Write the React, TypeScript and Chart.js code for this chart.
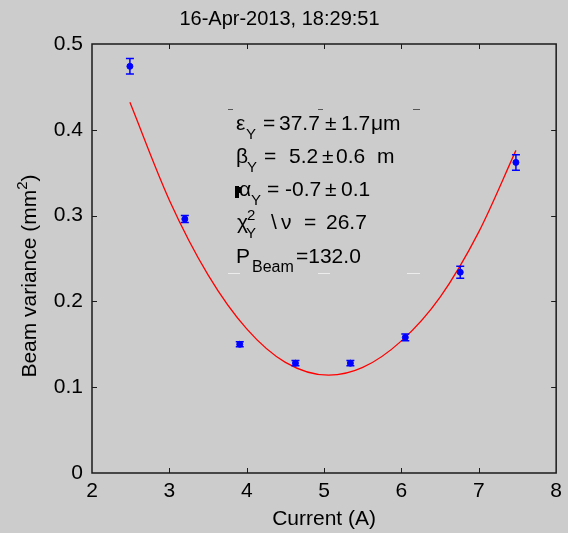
import React, { useEffect, useRef } from 'react';
import { Chart, registerables } from 'chart.js';

Chart.register(...registerables);

const chartTitle = '16-Apr-2013, 18:29:51';
const xAxisTitle = 'Current (A)';
const yAxisTitleMain = 'Beam variance (mm';
const yAxisTitleSup = '2';
const yAxisTitleEnd = ')';

const currents = [2.49, 3.2, 3.91, 4.63, 5.34, 6.05, 6.76, 7.48];
const variances = [0.474, 0.296, 0.15, 0.128, 0.128, 0.158, 0.234, 0.362];
const variancesErr = [0.009, 0.004, 0.003, 0.003, 0.003, 0.004, 0.007, 0.009];

const fitCurrents = [2.49, 3.0, 3.5, 4.0, 4.5, 5.06, 5.5, 6.0, 6.5, 7.0, 7.48];
const fitVariances = [0.432, 0.318, 0.231, 0.168, 0.129, 0.114, 0.123, 0.154, 0.205, 0.281, 0.376];

const xTicks = [2, 3, 4, 5, 6, 7, 8];
const yTicks = [0, 0.1, 0.2, 0.3, 0.4, 0.5];

const FONT = '"Liberation Sans", Arial, Helvetica, sans-serif';

// annotation text segments: [text, x, baseline offset, size]
type Seg = [string, number, number, number];
const annotationLines: { y: number; segs: Seg[] }[] = [
  { y: 130, segs: [['ε', 236, 0, 21], ['Y', 246, 9, 15], ['=', 263, 0, 21], ['37.7', 279, 0, 21], ['±', 325, 0, 21], ['1.7', 341, 0, 21], ['μm', 371, 0, 21]] },
  { y: 163, segs: [['β', 236, 0, 21], ['Y', 247, 9, 15], ['=', 264, 0, 21], ['5.2', 289, 0, 21], ['±', 322, 0, 21], ['0.6', 336, 0, 21], ['m', 377, 0, 21]] },
  { y: 196, segs: [['α', 239, 0, 21], ['Y', 251, 9, 15], ['=', 267, 0, 21], ['-0.7', 285, 0, 21], ['±', 325, 0, 21], ['0.1', 341, 0, 21]] },
  { y: 229, segs: [['χ', 237, 0, 21], ['2', 247, -9, 15], ['Y', 246, 9, 15], ['\\', 271, 0, 21], ['ν', 281, 0, 21], ['=', 304, 0, 21], ['26.7', 326, 0, 21]] },
  { y: 263, segs: [['P', 236, 0, 21], ['Beam', 252, 9, 16], ['=132.0', 296, 0, 21]] },
];

const errorBarPlugin = {
  id: 'errorBars',
  afterDatasetsDraw(chart: any) {
    const { ctx, scales } = chart;
    ctx.save();
    ctx.strokeStyle = '#0000ff';
    ctx.lineWidth = 1.5;
    currents.forEach((c, i) => {
      const px = scales.x.getPixelForValue(c);
      const top = scales.y.getPixelForValue(variances[i] + variancesErr[i]);
      const bot = scales.y.getPixelForValue(variances[i] - variancesErr[i]);
      ctx.beginPath();
      ctx.moveTo(px, top);
      ctx.lineTo(px, bot);
      ctx.moveTo(px - 4, top);
      ctx.lineTo(px + 4, top);
      ctx.moveTo(px - 4, bot);
      ctx.lineTo(px + 4, bot);
      ctx.stroke();
    });
    ctx.restore();
  },
};

const axesPlugin = {
  id: 'matlabAxes',
  afterDraw(chart: any) {
    const { ctx, chartArea: a, scales } = chart;
    ctx.save();
    ctx.strokeStyle = '#1a1a1a';
    ctx.lineWidth = 1.5;
    ctx.strokeRect(a.left, a.top, a.right - a.left, a.bottom - a.top);
    ctx.lineWidth = 1;
    ctx.beginPath();
    xTicks.slice(1, -1).forEach((v) => {
      const px = Math.round(scales.x.getPixelForValue(v)) + 0.5;
      ctx.moveTo(px, a.bottom);
      ctx.lineTo(px, a.bottom - 5);
      ctx.moveTo(px, a.top);
      ctx.lineTo(px, a.top + 5);
    });
    yTicks.slice(1, -1).forEach((v) => {
      const py = Math.round(scales.y.getPixelForValue(v)) + 0.5;
      ctx.moveTo(a.left, py);
      ctx.lineTo(a.left + 5, py);
      ctx.moveTo(a.right, py);
      ctx.lineTo(a.right - 5, py);
    });
    ctx.stroke();

    // y-axis title with superscript
    ctx.fillStyle = '#000';
    ctx.translate(36, 276);
    ctx.rotate(-Math.PI / 2);
    ctx.font = `21px ${FONT}`;
    const w1 = ctx.measureText(yAxisTitleMain).width;
    ctx.font = `15px ${FONT}`;
    const w2 = ctx.measureText(yAxisTitleSup).width;
    ctx.font = `21px ${FONT}`;
    const w3 = ctx.measureText(yAxisTitleEnd).width;
    const total = w1 + w2 + w3;
    let x = -total / 2;
    ctx.textBaseline = 'alphabetic';
    ctx.textAlign = 'left';
    ctx.fillText(yAxisTitleMain, x, 0);
    x += w1;
    ctx.font = `15px ${FONT}`;
    ctx.fillText(yAxisTitleSup, x, -9);
    x += w2;
    ctx.font = `21px ${FONT}`;
    ctx.fillText(yAxisTitleEnd, x, 0);
    ctx.restore();

    // annotation
    ctx.save();
    ctx.fillStyle = '#000';
    ctx.textAlign = 'left';
    ctx.textBaseline = 'alphabetic';
    annotationLines.forEach((line) => {
      line.segs.forEach(([t, x0, dy, size]) => {
        ctx.font = `${size}px ${FONT}`;
        ctx.fillText(t, x0, line.y + dy);
      });
    });
    // small artifact blob before alpha
    ctx.fillRect(235, 186, 4, 12);
    ctx.fillRect(238, 187, 3, 6);
    // text box corner marks
    ctx.strokeStyle = '#555';
    ctx.lineWidth = 1;
    ctx.beginPath();
    [[228, 233], [318, 323], [413, 420]].forEach(([x1, x2]) => {
      ctx.moveTo(x1, 109.5);
      ctx.lineTo(x2, 109.5);
    });
    ctx.stroke();
    ctx.strokeStyle = '#ececec';
    ctx.beginPath();
    [[228, 240], [318, 330], [407, 420]].forEach(([x1, x2]) => {
      ctx.moveTo(x1, 273.5);
      ctx.lineTo(x2, 273.5);
    });
    ctx.stroke();
    ctx.restore();
  },
};

export default function App() {
  const ref = useRef<HTMLCanvasElement | null>(null);

  useEffect(() => {
    if (!ref.current) return;
    const chart = new Chart(ref.current, {
      type: 'scatter',
      data: {
        datasets: [
          {
            label: 'fit',
            data: fitCurrents.map((x, i) => ({ x, y: fitVariances[i] })),
            showLine: true,
            borderColor: '#ff0000',
            borderWidth: 1.3,
            pointRadius: 0,
            cubicInterpolationMode: 'monotone',
            order: 2,
          },
          {
            label: 'data',
            data: currents.map((x, i) => ({ x, y: variances[i] })),
            showLine: false,
            pointRadius: 3,
            pointBackgroundColor: '#0000ff',
            pointBorderColor: '#0000ff',
            pointBorderWidth: 1,
            order: 1,
          },
        ],
      },
      options: {
        responsive: false,
        animation: false,
        devicePixelRatio: 1,
        layout: { padding: { left: 0, right: 9, top: 0, bottom: 0 } },
        plugins: {
          legend: { display: false },
          tooltip: { enabled: false },
          title: {
            display: true,
            text: chartTitle,
            color: '#000',
            font: { family: FONT, size: 20, weight: 'normal' },
            padding: { top: 7, bottom: 13 },
          },
        },
        scales: {
          x: {
            type: 'linear',
            min: 2,
            max: 8,
            afterBuildTicks: (s: any) => {
              s.ticks = xTicks.map((v) => ({ value: v }));
            },
            afterFit: (s: any) => {
              s.height = 60;
            },
            grid: { display: false, drawTicks: false },
            border: { display: false },
            ticks: {
              color: '#000',
              font: { family: FONT, size: 21 },
              padding: 6,
              maxRotation: 0,
            },
            title: {
              display: true,
              text: xAxisTitle,
              color: '#000',
              font: { family: FONT, size: 21 },
              padding: { top: 0, bottom: 1 },
            },
          },
          y: {
            type: 'linear',
            min: 0,
            max: 0.5,
            afterBuildTicks: (s: any) => {
              s.ticks = yTicks.map((v) => ({ value: v }));
            },
            afterFit: (s: any) => {
              s.width = 92;
            },
            grid: { display: false, drawTicks: false },
            border: { display: false },
            ticks: {
              color: '#000',
              font: { family: FONT, size: 21 },
              padding: 9,
              callback: (v: any) => String(Math.round(Number(v) * 10) / 10),
            },
          },
        },
      },
      plugins: [errorBarPlugin, axesPlugin],
    } as any);
    return () => chart.destroy();
  }, []);

  return (
    <div style={{ position: 'absolute', left: 0, top: 0, width: 568, height: 533, background: '#cccccc' }}>
      <canvas ref={ref} width={568} height={533} style={{ display: 'block' }} />
    </div>
  );
}
